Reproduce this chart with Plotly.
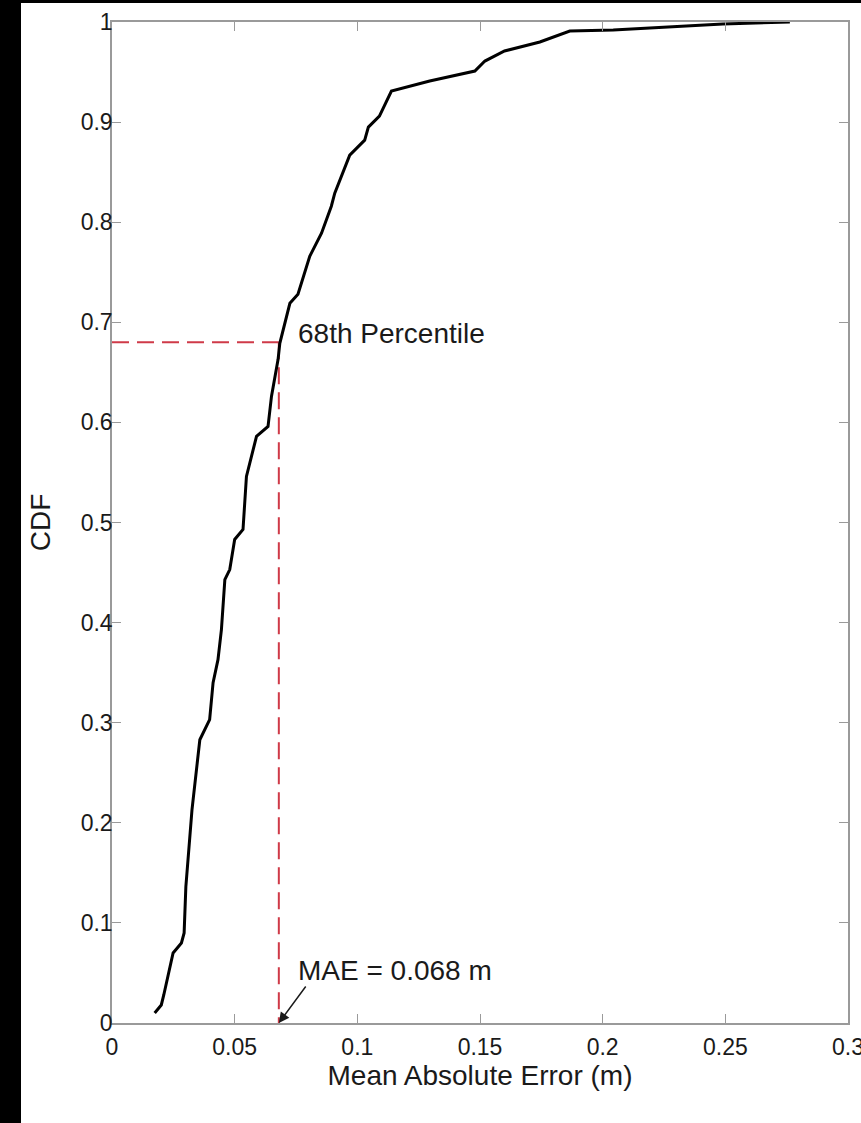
import plotly.graph_objects as go

# CDF curve
mae_values = [0.0174, 0.0201, 0.0211, 0.0249, 0.0283, 0.0294, 0.0301, 0.0317, 0.0326,
              0.0358, 0.0398, 0.0412, 0.0432, 0.0446, 0.0457, 0.0460, 0.0480, 0.0500,
              0.0534, 0.0548, 0.0589, 0.0636, 0.0650, 0.0677, 0.0684, 0.0725, 0.0758,
              0.0806, 0.0854, 0.0894, 0.0908, 0.0969, 0.1030, 0.1045, 0.1090, 0.1139,
              0.1295, 0.1479, 0.1520, 0.1600, 0.1744, 0.1866, 0.2043, 0.2490, 0.2763]
cdf_values = [0.010, 0.018, 0.028, 0.070, 0.080, 0.090, 0.136, 0.190, 0.213,
              0.283, 0.303, 0.340, 0.363, 0.393, 0.443, 0.443, 0.453, 0.483,
              0.493, 0.546, 0.586, 0.596, 0.626, 0.663, 0.679, 0.719, 0.728,
              0.766, 0.789, 0.816, 0.829, 0.867, 0.882, 0.895, 0.906, 0.931,
              0.941, 0.951, 0.961, 0.971, 0.980, 0.991, 0.992, 0.998, 1.000]

mae_mark = 0.068
percentile_mark = 0.68

x_tickvals = [0, 0.05, 0.1, 0.15, 0.2, 0.25, 0.3]
x_ticktext = ["0", "0.05", "0.1", "0.15", "0.2", "0.25", "0.3"]
y_tickvals = [0, 0.1, 0.2, 0.3, 0.4, 0.5, 0.6, 0.7, 0.8, 0.9, 1]
y_ticktext = ["0", "0.1", "0.2", "0.3", "0.4", "0.5", "0.6", "0.7", "0.8", "0.9", "1"]

FONT = "Liberation Sans, Arial, Helvetica, sans-serif"
RED = "#cf3a48"
AXIS = "#9a9a9a"
TXT = "#1a1a1a"

fig = go.Figure()

# 68th percentile guide lines
fig.add_trace(go.Scatter(x=[0, mae_mark], y=[percentile_mark, percentile_mark], mode="lines",
                         line=dict(color=RED, width=2, dash="17px,8px"), showlegend=False,
                         hoverinfo="skip"))
fig.add_trace(go.Scatter(x=[mae_mark, mae_mark], y=[percentile_mark, 0], mode="lines",
                         line=dict(color=RED, width=2, dash="17px,8px"), showlegend=False,
                         hoverinfo="skip"))

fig.add_trace(go.Scatter(x=mae_values, y=cdf_values, mode="lines",
                         line=dict(color="black", width=3), showlegend=False))

axis_common = dict(showline=True, linecolor=AXIS, linewidth=1.5, mirror="ticks",
                   ticks="inside", ticklen=9, tickwidth=1, tickcolor=AXIS,
                   showgrid=False, zeroline=False, ticklabeloverflow="allow",
                   automargin=False,
                   tickfont=dict(family=FONT, size=23, color=TXT))

fig.update_xaxes(range=[0, 0.3], tickvals=x_tickvals, ticktext=x_ticktext,
                 ticklabelstandoff=3,
                 title=dict(text="Mean Absolute Error (m)", font=dict(family=FONT, size=28, color=TXT),
                            standoff=6),
                 **axis_common)
fig.update_yaxes(range=[0, 1], tickvals=y_tickvals, ticktext=y_ticktext,
                 ticklabelstandoff=-7,
                 title=dict(text="CDF", font=dict(family=FONT, size=28, color=TXT),
                            standoff=22),
                 **axis_common)

fig.add_annotation(x=0.0752, y=0.689, xref="x", yref="y", text="68th Percentile",
                   showarrow=False, xanchor="left", yanchor="middle",
                   font=dict(family=FONT, size=28, color=TXT))
fig.add_annotation(x=0.0752, y=0.052, xref="x", yref="y", text="MAE = 0.068 m",
                   showarrow=False, xanchor="left", yanchor="middle",
                   font=dict(family=FONT, size=28, color=TXT))
fig.add_annotation(x=mae_mark, y=0, xref="x", yref="y", text="", showarrow=True,
                   ax=28, ay=-38, arrowhead=2, arrowsize=1.4, arrowwidth=1.5,
                   arrowcolor=TXT, standoff=0)

# black frame strips of the original image (left and top edges)
fig.add_shape(type="rect", xref="paper", yref="paper", x0=-0.2, x1=(21 - 112) / 736,
              y0=-0.2, y1=1.1, fillcolor="black", line=dict(width=0), layer="above")
fig.add_shape(type="rect", xref="paper", yref="paper", x0=-0.2, x1=1.1,
              y0=1 + 19 / 1001, y1=1.1, fillcolor="black", line=dict(width=0), layer="above")

fig.update_layout(width=861, height=1123, margin=dict(l=112, r=13, t=22, b=100),
                  paper_bgcolor="white", plot_bgcolor="white",
                  font=dict(family=FONT))

fig.write_html("out.html", config={"displayModeBar": False},
               post_script="document.body.style.margin='0';")
